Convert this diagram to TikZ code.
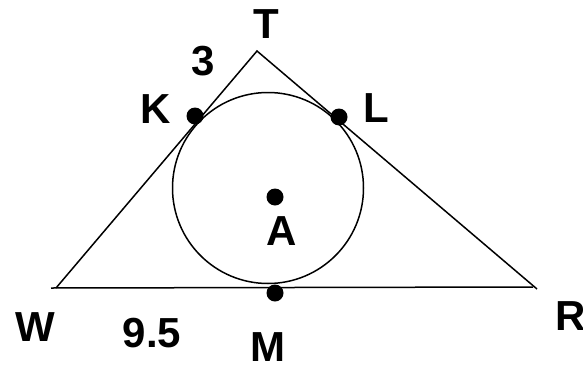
\documentclass[tikz,border=0pt]{standalone}
\usepackage{fontspec}
\setmainfont{Liberation Sans}
\begin{document}
\begin{tikzpicture}[x=1pt,y=-1pt,
  edge/.style={line width=1.5pt,line join=miter},
  ptdot/.style={circle,fill=black,inner sep=0pt,minimum size=17pt},
  lbl/.style={inner sep=0pt,font=\fontsize{42}{42}\selectfont\bfseries}]
\useasboundingbox (0,0) rectangle (583,367);
% vertices
\coordinate (T) at (257,51);
\coordinate (W) at (56,288);
\coordinate (Ws) at (51,288);
\coordinate (R) at (537,289);
\coordinate (Rb) at (533,287);
\coordinate (Ac) at (268,188);
% triangle
\draw[edge] (Ws) -- (Rb);
\draw[edge] (W) -- (T) -- (R);
% incircle
\draw[edge] (Ac) circle[radius=95.5];
% points
\node[ptdot] (K) at (195,116) {};
\node[ptdot] (L) at (339,117) {};
\node[ptdot] (A) at (275,197) {};
\node[ptdot] (M) at (275,293) {};
% labels
\node[lbl] (lT) at (266,24) {T};
\node[lbl] (l3) at (203,61.5) {3};
\node[lbl] (lK) at (155.5,109) {K};
\node[lbl] (lL) at (376,108.5) {L};
\node[lbl] (lA) at (282,231.5) {A};
\node[lbl] (lW) at (35,327.5) {W};
\node[lbl] (l95) at (152,333) {9.5};
\node[lbl] (lM) at (268,347) {M};
\node[lbl] (lR) at (571,316) {R};
\end{tikzpicture}
\end{document}
